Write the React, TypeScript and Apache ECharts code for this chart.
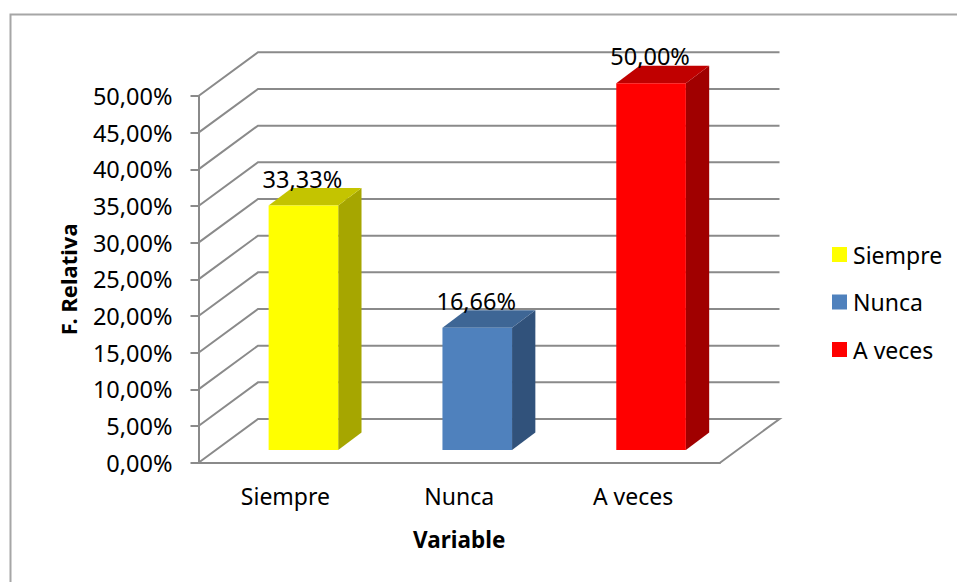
import React, { useEffect, useRef } from "react";
import * as echarts from "echarts";

const categories = ["Siempre", "Nunca", "A veces"];
const barValues = [33.33, 16.66, 50.0];
const barColors = ["#ffff00", "#4f81bd", "#ff0000"];
const barSideColors = ["#a6a600", "#31527b", "#a00000"];
const barTopColors = ["#c4c400", "#3e6695", "#c00000"];
const wallTicks = [0, 5, 10, 15, 20, 25, 30, 35, 40, 45, 50];

const FONT = "Noto Sans";
const GRID_COLOR = "#8a8a8a";
const pct = (v: number) => v.toFixed(2).replace(".", ",") + "%";

// Oblique projection used by the fake 3D walls and bars
const WALL_DX = 59.5;
const WALL_DY = -43.7;
const BAR_PLANE_DX = 18;
const BAR_PLANE_DY = -12.7;
const BAR_DEPTH_DX = 23.3;
const BAR_DEPTH_DY = -17.5;
const BAR_WIDTH = 69.6;

function renderWall(params: any, api: any) {
  const v = api.value(1);
  const cs = params.coordSys;
  const y = api.coord([0, v])[1];
  const left = cs.x;
  const right = cs.x + cs.width;
  const points: number[][] = [
    [left, y],
    [left + WALL_DX, y + WALL_DY],
    [right + WALL_DX, y + WALL_DY],
  ];
  if (v === 0) points.push([right, y]);
  return {
    type: "polyline",
    shape: { points },
    style: { stroke: GRID_COLOR, lineWidth: 2, fill: "none" },
    silent: true,
  };
}

function makeBar(index: number) {
  return (_params: any, api: any) => {
    const top = api.coord([index, api.value(1)]);
    const base = api.coord([index, 0]);
    const x0 = top[0] + BAR_PLANE_DX - BAR_WIDTH / 2;
    const x1 = x0 + BAR_WIDTH;
    const yT = top[1] + BAR_PLANE_DY;
    const yB = base[1] + BAR_PLANE_DY;
    const dx = BAR_DEPTH_DX;
    const dy = BAR_DEPTH_DY;
    return {
      type: "group",
      children: [
        {
          type: "polygon",
          shape: { points: [[x1, yT], [x1 + dx, yT + dy], [x1 + dx, yB + dy], [x1, yB]] },
          style: { fill: barSideColors[index] },
        },
        {
          type: "polygon",
          shape: { points: [[x0, yT], [x0 + dx, yT + dy], [x1 + dx, yT + dy], [x1, yT]] },
          style: { fill: barTopColors[index] },
        },
        {
          type: "polygon",
          shape: { points: [[x0, yT], [x1, yT], [x1, yB], [x0, yB]] },
          style: { fill: barColors[index] },
        },
        {
          type: "text",
          style: {
            text: pct(api.value(1)),
            x: (x0 + x1) / 2 - 1,
            y: yT - 27,
            align: "center",
            verticalAlign: "middle",
            fontFamily: FONT,
            fontSize: 23.5,
            fill: "#000",
          },
        },
      ],
    };
  };
}

export default function App() {
  const ref = useRef<HTMLDivElement>(null);
  useEffect(() => {
    const chart = echarts.init(ref.current!, null, { renderer: "svg" });
    chart.setOption({
      animation: false,
      backgroundColor: "#fff",
      textStyle: { fontFamily: FONT },
      grid: { left: 198.5, top: 96, width: 521.5, height: 366.7 },
      graphic: [
        {
          type: "polyline",
          silent: true,
          shape: { points: [[10.5, 582], [10.5, 14.5], [957, 14.5]] },
          style: { stroke: "#a6a6a6", lineWidth: 2, fill: "none" },
        },
      ],
      legend: {
        orient: "vertical",
        left: 827,
        top: 238,
        itemWidth: 15,
        itemHeight: 15,
        itemGap: 24.5,
        icon: "rect",
        data: categories,
        selectedMode: false,
        textStyle: { fontFamily: FONT, fontSize: 23, color: "#000", padding: [0, 0, 0, 1] },
      },
      xAxis: {
        type: "category",
        data: categories,
        name: "Variable",
        nameLocation: "middle",
        nameGap: 65,
        nameTextStyle: { fontFamily: FONT, fontSize: 22.5, fontWeight: "bold", color: "#000" },
        axisLine: { show: true, lineStyle: { color: GRID_COLOR, width: 2 } },
        axisTick: { show: false },
        axisLabel: { fontFamily: FONT, fontSize: 23, color: "#000", margin: 22 },
      },
      yAxis: {
        type: "value",
        min: 0,
        max: 50,
        interval: 5,
        name: "F. Relativa",
        nameLocation: "middle",
        nameRotate: 90,
        nameGap: 120,
        nameTextStyle: { fontFamily: FONT, fontSize: 22, fontWeight: "bold", color: "#000" },
        axisLine: { show: true, lineStyle: { color: GRID_COLOR, width: 2 } },
        axisTick: { show: true, inside: false, length: 8, lineStyle: { color: GRID_COLOR, width: 2 } },
        splitLine: { show: false },
        axisLabel: { fontFamily: FONT, fontSize: 23.5, color: "#000", margin: 26, formatter: pct },
      },
      series: [
        {
          type: "custom",
          name: "walls",
          z: 1,
          silent: true,
          renderItem: renderWall,
          data: wallTicks.map((v) => [0, v]),
          encode: { x: 0, y: 1 },
        },
        ...categories.map((name, i) => ({
          type: "custom",
          name,
          z: 3,
          silent: true,
          itemStyle: { color: barColors[i] },
          renderItem: makeBar(i),
          data: [[i, barValues[i]]],
          encode: { x: 0, y: 1 },
        })),
      ],
    });
    return () => chart.dispose();
  }, []);
  return (
    <div
      ref={ref}
      style={{ position: "absolute", left: 0, top: 0, width: 957, height: 582 }}
    />
  );
}
